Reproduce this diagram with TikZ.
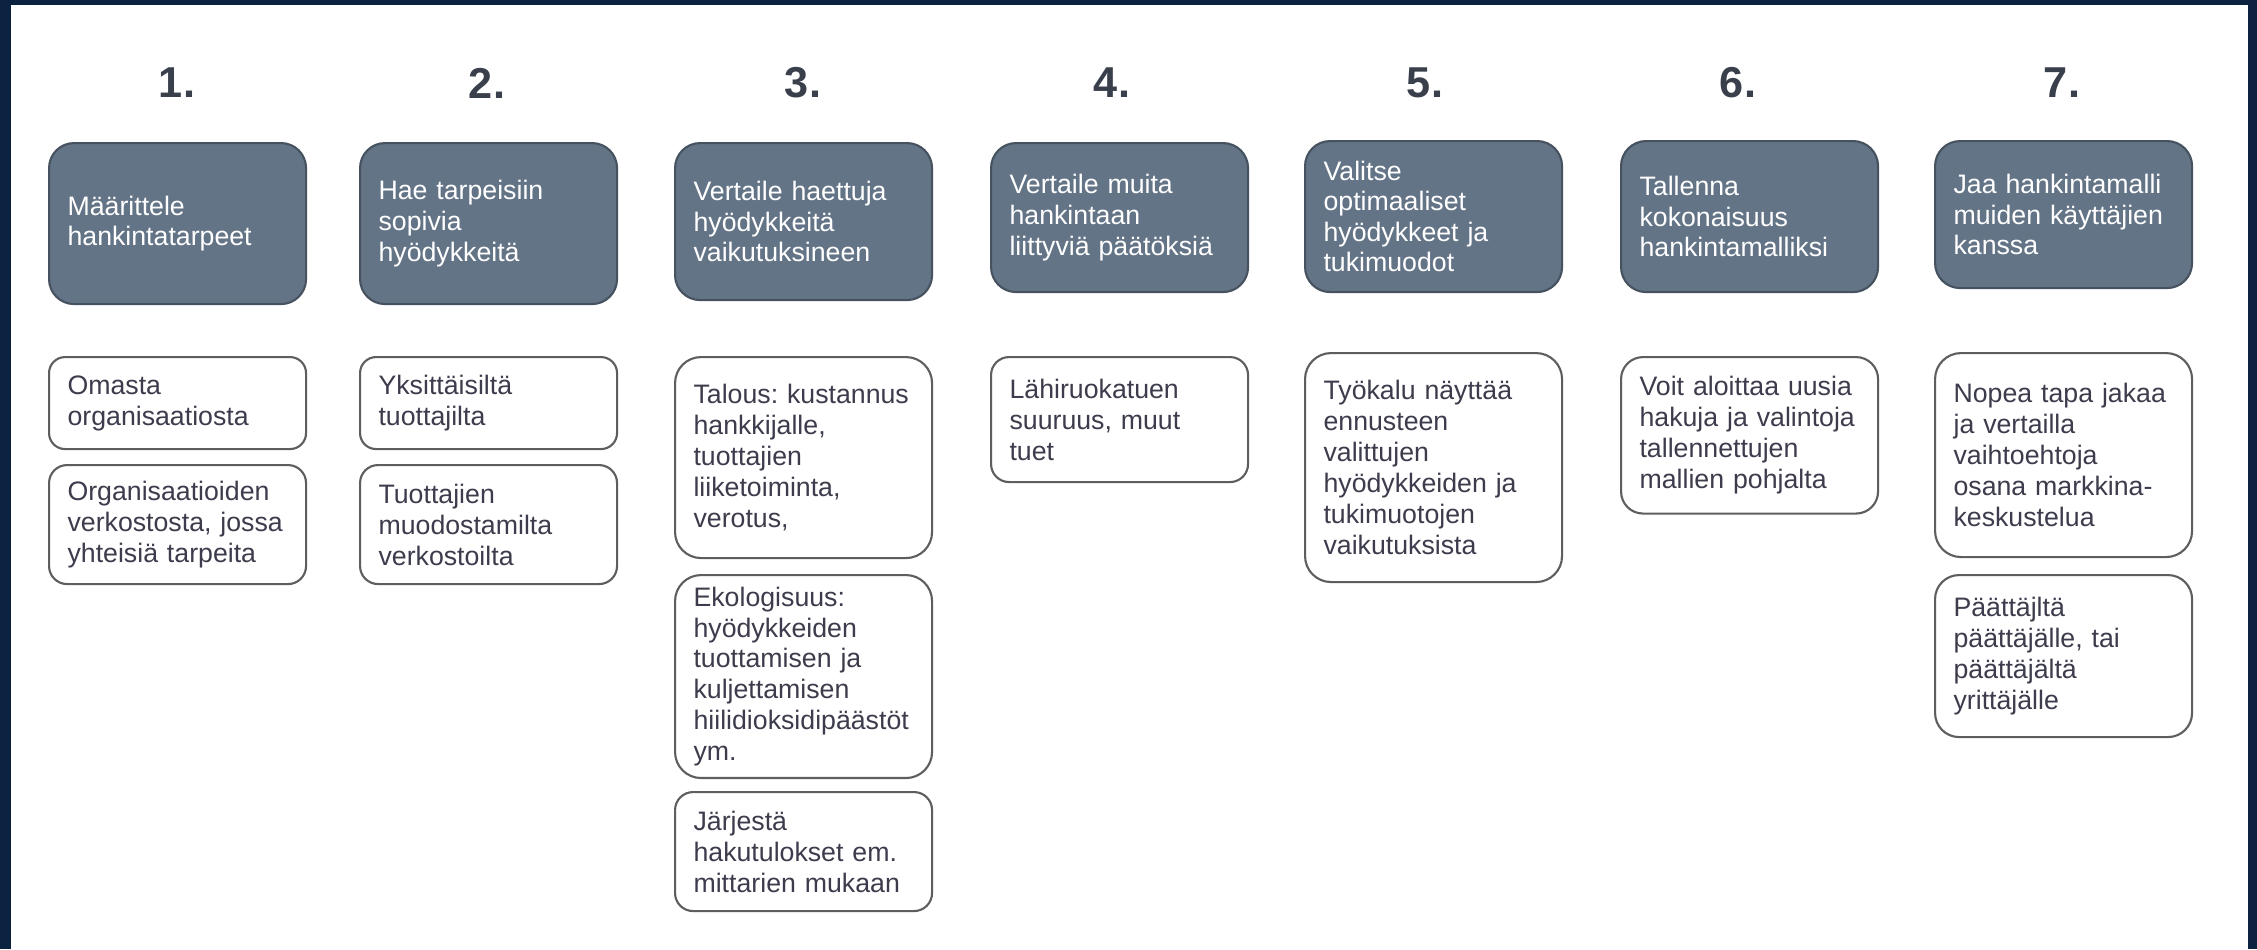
\documentclass[tikz,border=0pt]{standalone}
\usepackage{fontspec}
\setmainfont{Liberation Sans}
\frenchspacing
\definecolor{framenavy}{HTML}{0B2240}
\definecolor{headfill}{HTML}{647487}
\definecolor{headline}{HTML}{46525F}
\definecolor{notetext}{HTML}{3C3C4C}
\definecolor{noteline}{HTML}{5E5E5E}
\definecolor{numgray}{HTML}{3A404B}

\begin{document}
\begin{tikzpicture}[
  num/.style={font=\bfseries\fontsize{12.3}{14}\selectfont, text=numgray},
  head/.style={draw=headline, fill=headfill, line width=0.6pt, rounded corners=2.5mm, anchor=north west,
    text width=2.2cm, inner xsep=0.185cm, align=left, text=white, font=\fontsize{7.6}{8.7}\selectfont, minimum height=#1},
  note/.style 2 args={draw=noteline, fill=white, line width=0.6pt, rounded corners=#2, anchor=north west,
    text width=2.2cm, inner xsep=0.185cm, align=left, text=notetext, font=\fontsize{7.6}{8.8}\selectfont, minimum height=#1}
]
\useasboundingbox (0,0) rectangle (22.57,-9.49);
\fill [framenavy] (0,0) rectangle (22.57,-9.49);
\fill [white] (0.11,-0.05) rectangle (22.48,-9.49);

\node [num] (n1) at (1.77,-0.83) {1.};
\node [num] (n2) at (4.87,-0.83) {2.};
\node [num] (n3) at (8.03,-0.83) {3.};
\node [num] (n4) at (11.12,-0.83) {4.};
\node [num] (n5) at (14.25,-0.83) {5.};
\node [num] (n6) at (17.38,-0.83) {6.};
\node [num] (n7) at (20.62,-0.83) {7.};

\node [head=1.61cm] (h1) at (0.48,-1.42) {Määrittele\\hankintatarpeet};
\node [head=1.61cm] (h2) at (3.59,-1.42) {Hae tarpeisiin\\sopivia\\hyödykkeitä};
\node [head=1.57cm] (h3) at (6.74,-1.42) {Vertaile haettuja\\hyödykkeitä\\vaikutuksineen};
\node [head=1.49cm] (h4) at (9.90,-1.42) {Vertaile muita\\hankintaan\\liittyviä päätöksiä};
\node [head=1.51cm] (h5) at (13.04,-1.40) {Valitse\\optimaaliset\\hyödykkeet ja\\tukimuodot};
\node [head=1.51cm] (h6) at (16.20,-1.40) {Tallenna\\kokonaisuus\\hankintamalliksi};
\node [head=1.47cm] (h7) at (19.34,-1.40) {Jaa hankintamalli\\muiden käyttäjien\\kanssa};

\node [note={0.92cm}{1.6mm}] (a1) at (0.48,-3.56) {Omasta\\organisaatiosta};
\node [note={1.19cm}{1.8mm}] (b1) at (0.48,-4.64) {Organisaatioiden\\verkostosta, jossa\\yhteisiä tarpeita};

\node [note={0.92cm}{1.6mm}] (a2) at (3.59,-3.56) {Yksittäisiltä\\tuottajilta};
\node [note={1.19cm}{1.8mm}] (b2) at (3.59,-4.64) {Tuottajien\\muodostamilta\\verkostoilta};

\node [note={2.01cm}{2.6mm}] (a3) at (6.74,-3.56) {Talous: kustannus\\hankkijalle,\\tuottajien\\liiketoiminta,\\verotus,};
\node [note={2.01cm}{2.6mm}] (b3) at (6.74,-5.74) {Ekologisuus:\\hyödykkeiden\\tuottamisen ja\\kuljettamisen\\hiilidioksidipäästöt\\ym.};
\node [note={1.19cm}{1.8mm}] (c3) at (6.74,-7.91) {Järjestä\\hakutulokset em.\\mittarien mukaan};

\node [note={1.25cm}{1.8mm}] (a4) at (9.90,-3.56) {Lähiruokatuen\\suuruus, muut\\tuet};

\node [note={2.29cm}{2.6mm}] (a5) at (13.04,-3.52) {Työkalu näyttää\\ennusteen\\valittujen\\hyödykkeiden ja\\tukimuotojen\\vaikutuksista};

\node [note={1.565cm}{2.2mm}] (a6) at (16.20,-3.56) {Voit aloittaa uusia\\hakuja ja valintoja\\tallennettujen\\mallien pohjalta};

\node [note={2.04cm}{2.6mm}] (a7) at (19.34,-3.52) {Nopea tapa jakaa\\ja vertailla\\vaihtoehtoja\\osana markkina-\\keskustelua};
\node [note={1.62cm}{2.4mm}] (b7) at (19.34,-5.74) {Päättäjltä\\päättäjälle, tai\\päättäjältä\\yrittäjälle};
\end{tikzpicture}
\end{document}
